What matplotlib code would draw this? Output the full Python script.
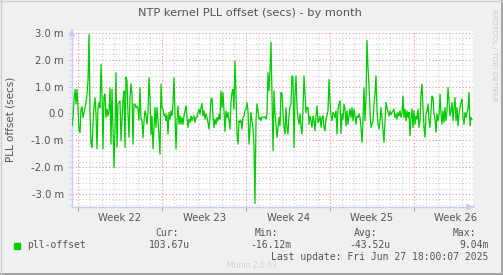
import matplotlib
matplotlib.use("Agg")
import matplotlib.pyplot as plt
import matplotlib.dates as mdates
from matplotlib.ticker import MultipleLocator, FuncFormatter
import pandas as pd

# 2-hour samples, values in milliseconds
start = "2025-05-25 12:00"
step = "2h"
offset_ms = [
    -0.46, -0.15, 0.47, 0.90, 0.35, 0.90, 0.22, -0.64, -0.70, 0.16,
    0.25, -0.15, 0.04, 0.22, 0.41, 0.72, 1.21, 2.94, -0.02, -1.14,
    -1.26, -0.40, 0.22, 0.59, -0.02, -1.32, 0.22, 0.41, 0.22, 1.83,
    0.72, -1.32, 0.65, 0.72, -0.15, 0.16, -0.09, 0.10, 0.96, -1.14,
    0.90, -0.52, -2.02, -0.64, 1.52, -1.26, 0.35, 0.41, 0.47, -1.01,
    -0.27, 0.47, 0.84, -1.26, 1.36, 1.21, -0.02, -0.89, 0.59, 1.11,
    0.72, -1.14, 0.35, 0.35, 0.22, 0.28, 0.16, -0.25, 0.96, -0.21,
    -0.27, -0.91, -0.27, 0.10, -0.09, -0.40, 0.04, 1.33, 0.59, -0.79,
    -0.09, -1.32, -0.52,
    0.22, -0.52, 0.22, -0.27, -0.89, -1.51, 1.09, 0.22, 0.16, -0.09,
    -0.02, -0.27, -0.05, -0.77, 0.04, -0.21, 0.10, -0.09, 0.35, 1.33,
    0.04, -1.32, -0.27, 0.28, -0.40, -0.09, -0.40, -0.15, -0.40, -0.09,
    0.10, 0.28, -0.15, -0.52, -0.21, -0.33, -0.09, -0.27, -0.15, -0.09,
    -0.33, -0.15, -0.15, 0.04, 0.16, -0.02, 0.22, 0.37, -0.09, 0.10,
    -0.21, -0.02, -0.15, -0.33, -0.58, -0.09, 0.53, 0.57, -0.09, -0.52,
    -0.21, -0.40, -0.15, -0.27, -0.02, -0.21, 0.84, 0.22, 0.78, 0.10,
    -0.67, 0.10, -0.15, 0.04, -0.27, -0.58, 0.41, 0.78, 0.90, 0.16,
    1.95, 0.72, -0.77, -1.14, -0.27, -0.33, -0.25, -0.58, -0.15, -0.09,
    0.10, 0.16, 0.41, 0.10, -1.14, -0.52, 0.04, -0.27, -0.52, -1.20,
    -3.35, -0.27, 0.35, 0.10, -0.21, -0.15, -0.27, -0.12, -0.15, -0.15,
    -0.12, -0.21, -0.02, 1.52, 0.84, 1.58, 2.65, 0.72, -1.38, 0.84,
    -0.02, -0.40, -0.89, -0.52, -0.15, -0.46, 0.78, 0.72, 0.04, -0.52,
    -0.77, 0.22, -0.52, -0.77, -0.09, 0.28, 0.35, 1.40, 1.33, -1.26,
    0.72, 1.40, 0.22, -0.15, -0.40, -0.02, -0.52, -0.77, 0.10, 1.40,
    0.72, 0.04, 0.22, 0.22, -0.40, -0.09, -0.27, -0.52, -0.09, -0.27,
    -0.64, -0.09, 0.28, -0.33, -0.27, -0.09, -0.52, -0.15, -0.09, -0.52,
    -0.64, -0.21, -0.09, 0.10, 1.27, 0.47, -0.09, -0.27, 0.04, -0.02,
    -0.15, 0.10, -0.77, 0.16, 0.35, 0.47, -0.74, -0.02, -0.21, 0.35,
    0.16, -0.46, 0.10, -0.40, -0.09, 0.16, -0.15, 0.22, -0.27, 0.16,
    -0.09, -0.40, -0.09, -0.15, -0.02, -0.15, -0.52, -1.07, -0.27, 0.96,
    -0.27, 0.59, 2.72, 1.70, 1.02, 0.10, -0.52, -0.40, -0.27, 0.35,
    0.72, 1.40, 0.10, -0.40, -0.58, -0.27, 0.22, -0.15, -0.64, -1.07,
    -0.27, 0.41, 0.22, 0.04, -0.09, 0.10, -0.05, 0.04, 0.10, 0.16,
    -0.15, -0.02, -0.21, 0.04, -0.09, 0.10, -0.15, 0.04, 0.65, -0.15,
    0.16, -0.27, 0.10, -0.15, 0.04, -0.83, -0.15, 0.16, -0.52, 0.10,
    -0.40, -0.09, -0.21, 0.16, -0.52, -0.27, 0.72, 1.09, 0.22, -0.52,
    -0.89, -0.02, 0.10, 0.35, -0.27, -0.52, 0.10, 0.65, 0.59, -0.02,
    -0.21, -0.70, -0.02, -0.27, -0.09, 0.72, -0.02, -0.40, 0.10, -0.33,
    0.22, -0.27, 0.10, 0.96, 0.47, -0.09, 0.10, 0.41, -0.27, 0.22,
    0.59, -0.27, 0.22, -0.46, -0.02, 0.22, 0.41, 0.53, -0.15, -0.40,
    0.04, -0.15, 0.04, 0.16, 0.78, -0.46, -0.15, -0.21,
]
week_labels = ["Week 22", "Week 23", "Week 24", "Week 25", "Week 26"]
week_starts = pd.date_range("2025-05-26", periods=5, freq="7D")

legend_name = "pll-offset"
stat_names = ["Cur:", "Min:", "Avg:", "Max:"]
stat_values = ["103.67u", "-16.12m", "-43.52u", "9.04m"]
last_update = "Last update: Fri Jun 27 18:00:07 2025"

times = pd.date_range(start, periods=len(offset_ms), freq=step)

W, H = 503, 275
fig = plt.figure(figsize=(W / 100, H / 100), dpi=100, facecolor="#f0f0f0")

x0, x1, y0, y1 = 72, 473, 31, 207
ax = fig.add_axes([x0 / W, 1 - y1 / H, (x1 - x0) / W, (y1 - y0) / H])
ax.set_facecolor("white")

ax.plot(times, offset_ms, color="#00cc00", lw=0.9, zorder=3)

xmin = pd.Timestamp(start)
xmax = xmin + pd.Timedelta(hours=2 * (x1 - x0))
ax.set_xlim(xmin, xmax)
ax.set_ylim(-3.48, 3.07)

# grid
ax.yaxis.set_major_locator(MultipleLocator(1.0))
ax.yaxis.set_minor_locator(MultipleLocator(0.2))
ax.yaxis.set_major_formatter(FuncFormatter(lambda v, p: "0.0" if abs(v) < 1e-9 else f"{v:.1f} m"))
ax.xaxis.set_minor_locator(mdates.DayLocator())
ax.xaxis.set_major_locator(mdates.WeekdayLocator(byweekday=mdates.MO))
ax.xaxis.set_major_formatter(FuncFormatter(lambda v, p: ""))

dots = (0, (1, 2))
ax.grid(which="minor", color="#cfcfcf", ls=dots, lw=0.8, zorder=1)
ax.grid(which="major", axis="y", color="#f09090", ls=dots, lw=0.8, zorder=2)
for d in week_starts:
    ax.axvline(d, color="#f09090", ls=dots, lw=0.8, zorder=2)

# week labels centred between the Monday lines
for d, lab in zip(week_starts, week_labels):
    xc = mdates.date2num(d + pd.Timedelta(hours=84))
    ax.text(xc, -0.035, lab, ha="center", va="top", transform=ax.get_xaxis_transform(),
            fontsize=7.2, color="#555555")

for s in ["top", "right"]:
    ax.spines[s].set_visible(False)
for s in ["left", "bottom"]:
    ax.spines[s].set_color("#ccccf4")
    ax.spines[s].set_linewidth(1.0)

ax.tick_params(axis="y", which="major", length=3, color="#ccccf4", labelsize=7.2,
               labelcolor="#555555", pad=3)
ax.tick_params(axis="y", which="minor", length=2, color="#ccccf4")
ax.tick_params(axis="x", which="major", length=3, color="#f09090", direction="out")
ax.tick_params(axis="x", which="minor", length=0)

# axis arrows
arrow = dict(arrowstyle="-|>,head_width=0.18,head_length=0.4", color="#ccccf4", lw=1.0)
ax.annotate("", xy=(0, 1.03), xycoords="axes fraction", xytext=(0, 0.99), arrowprops=arrow)
ax.annotate("", xy=(1.01, 0), xycoords="axes fraction", xytext=(0.995, 0), arrowprops=arrow)

ax.set_ylabel("PLL offset (secs)", fontsize=7.5, color="#555555")
ax.yaxis.set_label_coords(-57 / (x1 - x0), 0.5)

fig.text(250 / W, 1 - 13 / H, "NTP kernel PLL offset (secs) - by month", ha="center",
         va="center", fontsize=8.2, color="#555555")
fig.text(494 / W, 1 - 55 / H, "RRDTOOL / TOBI OETIKER", rotation=-90, ha="center",
         va="center", fontsize=5.2, color="#cccccc")

mono = "DejaVu Sans Mono"
fig.patches.append(plt.Rectangle((14 / W, 1 - 249 / H), 6 / W, 6 / H,
                                 transform=fig.transFigure, color="#00cc00"))
fig.text(27 / W, 1 - 245 / H, legend_name, family=mono, fontsize=7, color="#555555", va="center")
name_x = [155, 255, 354, 453]
val_x = [149, 250, 349, 459]
for n, v, nx, vx in zip(stat_names, stat_values, name_x, val_x):
    fig.text(nx / W, 1 - 233 / H, n, family=mono, fontsize=7, color="#555555", va="center")
    fig.text(vx / W, 1 - 245 / H, v, family=mono, fontsize=7, color="#555555", va="center")
fig.text(488 / W, 1 - 257 / H, last_update, family=mono, fontsize=7, color="#555555",
         va="center", ha="right")
fig.text(252 / W, 1 - 266 / H, "Munin 2.0.63", fontsize=5.5, color="#d4d4d4",
         ha="center", va="center")

# frame shading
fig.add_artist(plt.Line2D([0, 1], [1 / H, 1 / H], transform=fig.transFigure,
                          color="#a0a0a0", lw=2))
fig.add_artist(plt.Line2D([1 - 1 / W, 1 - 1 / W], [0, 1], transform=fig.transFigure,
                          color="#a0a0a0", lw=2))
fig.add_artist(plt.Line2D([0.5 / W, 0.5 / W], [0, 1], transform=fig.transFigure,
                          color="#cfcfcf", lw=1))
fig.add_artist(plt.Line2D([0, 1], [1 - 0.5 / H, 1 - 0.5 / H], transform=fig.transFigure,
                          color="#cfcfcf", lw=1))

fig.savefig("out.png", dpi=100, facecolor=fig.get_facecolor())
